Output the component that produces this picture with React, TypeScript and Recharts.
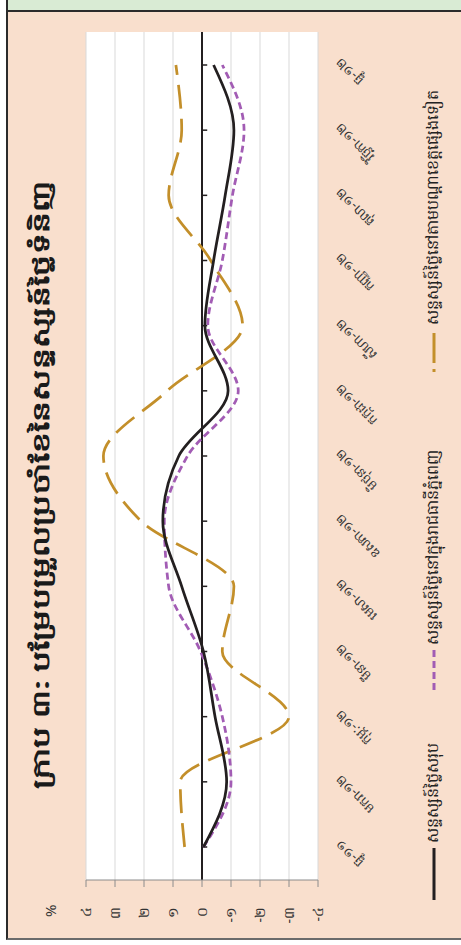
import {
  LineChart,
  Line,
  XAxis,
  YAxis,
  CartesianGrid,
  ReferenceLine,
} from "recharts";

// months Dec-11 .. Dec-12
const months = [
  "ធ្នូ-១១",
  "មករា-១២",
  "កុម្ភៈ-១២",
  "មីនា-១២",
  "មេសា-១២",
  "ឧសភា-១២",
  "មិថុនា-១២",
  "កក្កដា-១២",
  "សីហា-១២",
  "កញ្ញា-១២",
  "តុលា-១២",
  "វិច្ឆិកា-១២",
  "ធ្នូ-១២",
];

// monthly % change
const total = [-0.05, -0.85, -0.45, -0.05, 0.7, 1.35, 0.8, -0.9, -0.1, -0.4, -0.8, -1.1, -0.4];
const phnomPenh = [-0.05, -1.0, -0.7, 0.05, 1.15, 1.3, 0.5, -1.25, -0.2, -0.7, -1.05, -1.45, -0.7];
const provinces = [0.6, 0.75, -3.0, -0.7, -1.1, 2.1, 3.4, 1.2, -1.4, -0.3, 1.15, 0.7, 0.9];

const yTicks = [-4, -3, -2, -1, 0, 1, 2, 3, 4];

const seriesNames = [
  "សន្ទស្សន៍ថ្លៃសរុប",
  "សន្ទស្សន៍ថ្លៃនៅក្នុងរាជធានីភ្នំពេញ",
  "សន្ទស្សន៍ថ្លៃនៅតាមបណ្តាខេត្តផ្សេងទៀត",
];

const title = "ក្រាប ៣: បម្រែបម្រួលប្រចាំខែនៃសន្ទស្សន៍ថ្លៃទំនិញ";

const data = months.map((m, i) => ({
  month: m,
  total: total[i],
  pp: phnomPenh[i],
  prov: provinces[i],
}));

const KH = "០១២៣៤៥៦៧៨៩";
const toKhmer = (v: number) =>
  (v < 0 ? "-" : "") +
  String(Math.abs(v))
    .split("")
    .map((c) => KH[Number(c)] ?? c)
    .join("");

const FONT = "'Noto Sans', 'DejaVu Sans', sans-serif";

const BLACK = "#231f20";
const PURPLE = "#a25cb4";
const GOLD = "#c38f2a";

const styles = [
  { color: BLACK, dash: undefined as string | undefined, left: 45, sym: 52 },
  { color: PURPLE, dash: "7 4", left: 255, sym: 40 },
  { color: GOLD, dash: "3 6 30 10", left: 573, sym: 42 },
];

const MonthTick = (props: any) => {
  const { x, y, payload } = props;
  return (
    <g transform={`translate(${x + 5},${y + 20})`}>
      <text
        transform="rotate(-45)"
        textAnchor="end"
        dy="0.35em"
        fontSize={13}
        fill="#333"
        fontFamily={FONT}
      >
        {payload.value}
      </text>
    </g>
  );
};

const LegendBox = () => (
  <div
    style={{
      position: "absolute",
      top: 421,
      left: 0,
      width: 945,
      height: 22,
      fontFamily: FONT,
    }}
  >
    {styles.map((s, i) => (
      <div
        key={i}
        style={{
          position: "absolute",
          left: s.left,
          top: 0,
          display: "flex",
          alignItems: "center",
          whiteSpace: "nowrap",
        }}
      >
        <svg width={s.sym} height={6}>
          <line
            x1={0}
            x2={s.sym}
            y1={3}
            y2={3}
            stroke={s.color}
            strokeWidth={3}
            strokeDasharray={s.dash}
          />
        </svg>
        <span style={{ marginLeft: 5, fontSize: 16, color: "#222" }}>
          {seriesNames[i]}
        </span>
      </div>
    ))}
  </div>
);

export default function App() {
  return (
    <div
      style={{
        position: "fixed",
        top: 0,
        left: 0,
        width: 461,
        height: 945,
        overflow: "hidden",
        background: "#fff",
      }}
    >
      <div
        style={{
          position: "absolute",
          top: 0,
          left: 0,
          width: 945,
          height: 461,
          transform: "translate(0px, 945px) rotate(-90deg)",
          transformOrigin: "0 0",
          background: "#fff",
        }}
      >
        {/* frame */}
        <div
          style={{
            position: "absolute",
            left: 5,
            top: 6,
            right: 0,
            bottom: 0,
            background: "#f9dfcd",
            borderTop: "2px solid #2b2b2b",
            borderLeft: "2px solid #6b6b6b",
          }}
        />
        <div
          style={{
            position: "absolute",
            left: 933,
            top: 8,
            right: 0,
            bottom: 0,
            background: "#d9ebd4",
            borderLeft: "2px solid #2b2b2b",
          }}
        />
        <div
          style={{
            position: "absolute",
            top: 24,
            left: 0,
            width: 920,
            textAlign: "center",
            fontFamily: FONT,
            fontWeight: 700,
            fontSize: 23,
            color: "#1a1a1a",
          }}
        >
          <span style={{ display: "inline-block", transform: "scaleX(1.42)" }}>
            {title}
          </span>
        </div>
        <div
          style={{
            position: "absolute",
            top: 40,
            left: 28,
            fontFamily: FONT,
            fontSize: 15,
            color: "#333",
          }}
        >
          %
        </div>
        <div style={{ position: "absolute", top: 0, left: 0 }}>
          <LineChart
            width={945}
            height={461}
            data={data}
            margin={{ top: 86, right: 32, bottom: 83, left: 0 }}
          >
            <CartesianGrid vertical={false} stroke="#d9d9d9" fill="#fff" />
            <XAxis
              dataKey="month"
              interval={0}
              axisLine={false}
              tickLine={false}
              tickSize={0}
              tickMargin={0}
              height={60}
              padding={{ left: 33, right: 33 }}
              tick={<MonthTick />}
            />
            <YAxis
              domain={[-4, 4]}
              ticks={yTicks}
              width={65}
              stroke="#8c8c8c"
              tickSize={7}
              tickMargin={20}
              tickFormatter={toKhmer}
              tick={{ fill: "#333", fontSize: 14, fontFamily: FONT }}
            />
            <ReferenceLine y={0} stroke={BLACK} strokeWidth={2} />
            {months.map((m) => (
              <ReferenceLine
                key={m}
                segment={[
                  { x: m, y: 0 },
                  { x: m, y: -0.18 },
                ]}
                stroke={BLACK}
                strokeWidth={1.5}
              />
            ))}
            <Line
              type="monotone"
              dataKey="prov"
              stroke={GOLD}
              strokeWidth={2.75}
              strokeDasharray="24 10"
              dot={false}
              isAnimationActive={false}
            />
            <Line
              type="monotone"
              dataKey="pp"
              stroke={PURPLE}
              strokeWidth={2.75}
              strokeDasharray="7 4"
              dot={false}
              isAnimationActive={false}
            />
            <Line
              type="monotone"
              dataKey="total"
              stroke={BLACK}
              strokeWidth={2.75}
              dot={false}
              isAnimationActive={false}
            />
          </LineChart>
        </div>
        <LegendBox />
      </div>
    </div>
  );
}
